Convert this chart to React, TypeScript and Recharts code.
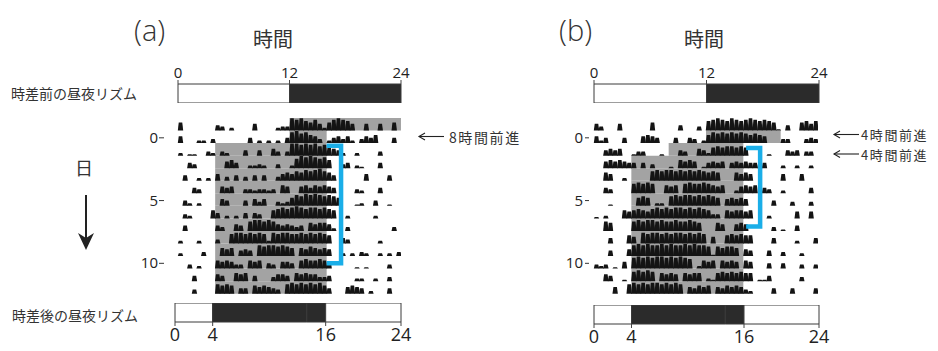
import React from 'react';
import { BarChart, Bar, XAxis, YAxis, ReferenceArea, LineChart, Line } from 'recharts';

// hours on the light/dark bars
const hourTicksBefore = [0, 12, 24];
const hourTicksAfter = [0, 4, 16, 24];
// light/dark segments in hours (light, dark, ...)
const ldBefore = [12, 12];
const ldBeforeColors = ['#ffffff', '#2b2b2b'];
const ldAfter = [4, 10, 2, 8];
const ldAfterColors = ['#ffffff', '#2b2b2b', '#2b2b2b', '#ffffff'];

const dayTicks = [0, 5, 10];
const days = [-1, 0, 1, 2, 3, 4, 5, 6, 7, 8, 9, 10, 11, 12];

// activity per half hour bin (0-9), one line per day from -1 to 12
const activityA = [
  '60000000 43020000 50000233 98976852 68987500 50050060',
  '50002203 00000004 02020204 89786530 24535203 54600040',
  '20110032 03200040 04005303 99898978 65420020 00030000',
  '00430000 00564002 23200300 27989878 60034021 00040000',
  '04002020 50304030 40400356 57687897 64000000 50000400',
  '00043000 05450033 23323065 00564656 54000032 00040000',
  '04202000 05400040 53500323 68798987 87600012 00400100',
  '03200006 40202040 43006787 89878878 76002000 00200000',
  '04000000 43005407 88787545 43406566 52003000 00000030',
  '20002000 30078878 78728788 77878787 60043000 00020000',
  '20000300 06560454 08788787 60657656 50020203 20020203',
  '00302000 65653306 56043055 40676676 50000010 10000300',
  '00040000 54006560 40003554 06565533 40000022 00200300',
  '00030000 76760440 65654307 87878786 40005654 02000400',
];

const activityB = [
  '53000500 00006000 00400030 78987987 89878761 04006757',
  '52400040 00565400 04004302 68787878 76765000 33000343',
  '00454500 13300010 00430054 26767767 60000100 04340330',
  '00565654 40403000 10656501 45450454 54434000 20020020',
  '00650020 00007878 87878787 67600065 65000000 50005000',
  '00430000 78787006 56078778 76560025 65604300 20000040',
  '00010000 06760220 78788787 87605656 50000040 00300030',
  '10200065 67657878 78878787 63306566 56000200 00050050',
  '00760000 78788787 78778760 00650056 50000030 10040000',
  '00040006 50878878 78878787 05006767 66000040 00020004',
  '00040005 89898898 98898988 71767760 54000400 30002000',
  '32301050 89898998 98987026 56065650 65000400 40003003',
  '00540010 78787065 65065660 21676767 66011400 00003000',
  '00005007 87878878 78705465 60546565 32000040 00400004',
];

// grey shading: [first day, last day, from hour, to hour]
const shadeA = [
  [-1, -1, 12, 24],
  [0, 0, 12, 16],
  [1, 12, 4, 16],
];
const shadeB = [
  [-1, -1, 12, 24],
  [0, 0, 12, 20],
  [1, 1, 8, 16],
  [2, 12, 4, 16],
];

// blue brackets (hour, day)
const bracketA = [
  { h: 16.0, d: 0.72 },
  { h: 17.55, d: 0.72 },
  { h: 17.55, d: 10.08 },
  { h: 16.0, d: 10.08 },
];
const bracketB = [
  { h: 16.3, d: 0.9 },
  { h: 17.8, d: 0.9 },
  { h: 17.8, d: 7.15 },
  { h: 16.3, d: 7.15 },
];

const ROW_H = 12.55;
const PLOT_TOP = 137 - 1.5 * ROW_H;
const YW = 60;
const NUM = '"Open Sans", "Noto Sans", sans-serif';
const JP = '"Noto Sans CJK JP", "Noto Sans", sans-serif';
const bins = Array.from({ length: 48 }, (_, b) => b);

function buildData(activity: string[]) {
  const rows = activity.map((s) => s.replace(/\s/g, '').split('').map(Number));
  return bins.map((b) => {
    const o: Record<string, number> = { bin: b };
    rows.forEach((vals, i) => {
      const a = vals[b] * 0.108;
      o['a' + days[i]] = a;
      o['g' + days[i]] = 1 - a;
    });
    return o;
  });
}

// activity counts look like little peaks
function Spike(props: any) {
  const { x, y, width, height, fill } = props;
  if (!height || height <= 0) return null;
  const t = width * 0.15;
  return <path d={`M${x - 0.2},${y + height} L${x + t},${y} L${x + width - t},${y} L${x + width + 0.2},${y + height} Z`} fill={fill} />;
}

function Actogram({ left, width, activity, shades, textGap, dash }: any) {
  const data = buildData(activity);
  const stackDays = [...days].reverse();
  const tick = (p: any) => {
    const day = 12.5 - p.payload.value;
    return (
      <g>
        <text x={YW - textGap} y={p.y} textAnchor="end" dominantBaseline="central" fontSize={15} fontFamily={NUM} fill="#222">
          {day}
        </text>
        <line x1={YW - dash[0]} x2={YW - dash[1]} y1={p.y + 1} y2={p.y + 1} stroke="#333" strokeWidth={1} />
      </g>
    );
  };
  return (
    <div style={{ position: 'absolute', left: left - YW, top: PLOT_TOP }}>
      <BarChart width={width + YW} height={14 * ROW_H} data={data} margin={{ top: 0, right: 0, bottom: 0, left: 0 }} barCategoryGap={0} barGap={0}>
        <XAxis dataKey="bin" type="category" hide />
        <YAxis type="number" domain={[0, 14]} ticks={dayTicks.map((d) => 12.5 - d)} width={YW} axisLine={false} tickLine={false} tick={tick} interval={0} />
        {shades.flatMap((s: number[]) =>
          days
            .filter((d) => d >= s[0] && d <= s[1])
            .map((d) => (
              <ReferenceArea key={`sh${d}-${s[2]}`} x1={s[2] * 2} x2={s[3] * 2 - 1} y1={12 - d} y2={13 - d} fill="#a3a3a3" fillOpacity={1} stroke="none" />
            ))
        )}
        {stackDays.flatMap((d) => [
          <Bar key={'a' + d} dataKey={'a' + d} stackId="s" fill="#141414" shape={<Spike />} isAnimationActive={false} />,
          <Bar key={'g' + d} dataKey={'g' + d} stackId="s" fill="none" isAnimationActive={false} />,
        ])}
      </BarChart>
    </div>
  );
}

function Bracket({ left, width, points }: any) {
  return (
    <div style={{ position: 'absolute', left, top: PLOT_TOP }}>
      <LineChart width={width} height={14 * ROW_H} data={points} margin={{ top: 0, right: 0, bottom: 0, left: 0 }}>
        <XAxis type="number" dataKey="h" domain={[0, 24]} hide />
        <YAxis type="number" domain={[-1.5, 12.5]} reversed hide />
        <Line dataKey="d" stroke="#1aaee8" strokeWidth={4.5} dot={false} strokeLinejoin="miter" strokeLinecap="butt" isAnimationActive={false} />
      </LineChart>
    </div>
  );
}

function LDBar({ left, top, width, segs, colors, ticks, side, fontSize }: any) {
  const row: Record<string, any> = { name: 'ld' };
  segs.forEach((v: number, i: number) => (row['s' + i] = v));
  const axisH = 26;
  const barH = 19;
  return (
    <div style={{ position: 'absolute', left: left - 20, top: side === 'top' ? top - axisH : top }}>
      <BarChart width={width + 40} height={barH + axisH} data={[row]} layout="vertical" margin={{ top: 0, right: 20, bottom: 0, left: 20 }} barCategoryGap={0}>
        <XAxis
          type="number"
          domain={[0, 24]}
          ticks={ticks}
          interval={0}
          orientation={side}
          height={axisH}
          axisLine={false}
          tickSize={4}
          tickMargin={2}
          tickLine={{ stroke: '#444' }}
          tick={{ fill: '#222', fontSize, fontFamily: NUM }}
        />
        <YAxis type="category" dataKey="name" hide />
        {segs.map((_: number, i: number) => (
          <Bar key={i} dataKey={'s' + i} stackId="ld" fill={colors[i]} stroke="#3a3a3a" strokeWidth={1} isAnimationActive={false} />
        ))}
      </BarChart>
    </div>
  );
}

function LeftArrow({ x, y }: { x: number; y: number }) {
  return (
    <g stroke="#222" strokeWidth={1.1} fill="none">
      <line x1={x} y1={y} x2={x + 25} y2={y} />
      <polyline points={`${x + 6},${y - 3.5} ${x},${y} ${x + 6},${y + 3.5}`} />
    </g>
  );
}

const noteStyle = { fontSize: 13, fontFamily: JP, fill: '#333', letterSpacing: 1.6 } as const;

export default function App() {
  return (
    <div style={{ position: 'absolute', left: 0, top: 0, width: 938, height: 351, background: '#fff', overflow: 'hidden' }}>
      <svg width={938} height={351} style={{ position: 'absolute', left: 0, top: 0 }}>
        <text x={134} y={29} fontSize={29} fontFamily={NUM} fontWeight={300} fill="#333" dominantBaseline="central">(a)</text>
        <text x={273} y={38} fontSize={20} fontFamily={JP} fill="#333" textAnchor="middle" dominantBaseline="central">時間</text>
        <text x={559} y={29} fontSize={29} fontFamily={NUM} fontWeight={300} fill="#333" dominantBaseline="central">(b)</text>
        <text x={704} y={38} fontSize={20} fontFamily={JP} fill="#333" textAnchor="middle" dominantBaseline="central">時間</text>
        <text x={11} y={93} fontSize={14} fontFamily={JP} fill="#333" dominantBaseline="central">時差前の昼夜リズム</text>
        <text x={12} y={315} fontSize={14} fontFamily={JP} fill="#333" dominantBaseline="central">時差後の昼夜リズム</text>
        <text x={84} y={167} fontSize={18} fontFamily={JP} fill="#333" textAnchor="middle" dominantBaseline="central">日</text>
        <line x1={86} y1={195} x2={86} y2={238} stroke="#222" strokeWidth={2} />
        <path d="M78,233 L86,250 L94,233 L86,238 Z" fill="#222" />
        <LeftArrow x={419} y={136.5} />
        <text x={449} y={136.5} {...noteStyle} fontSize={14} dominantBaseline="central">8時間前進</text>
        <LeftArrow x={834} y={134.5} />
        <text x={861} y={134.5} {...noteStyle} dominantBaseline="central">4時間前進</text>
        <LeftArrow x={834} y={154} />
        <text x={861} y={154} {...noteStyle} dominantBaseline="central">4時間前進</text>
      </svg>

      <LDBar left={178} top={84} width={223} segs={ldBefore} colors={ldBeforeColors} ticks={hourTicksBefore} side="top" fontSize={15} />
      <LDBar left={594} top={84} width={225} segs={ldBefore} colors={ldBeforeColors} ticks={hourTicksBefore} side="top" fontSize={15} />

      <Actogram left={178} width={223} activity={activityA} shades={shadeA} textGap={20} dash={[19, 14]} />
      <Actogram left={594} width={224} activity={activityB} shades={shadeB} textGap={11} dash={[9, 5]} />

      <Bracket left={178} width={223} points={bracketA} />
      <Bracket left={594} width={224} points={bracketB} />

      <LDBar left={175} top={303} width={226} segs={ldAfter} colors={ldAfterColors} ticks={hourTicksAfter} side="bottom" fontSize={18} />
      <LDBar left={594} top={305} width={225} segs={ldAfter} colors={ldAfterColors} ticks={hourTicksAfter} side="bottom" fontSize={18} />
    </div>
  );
}
